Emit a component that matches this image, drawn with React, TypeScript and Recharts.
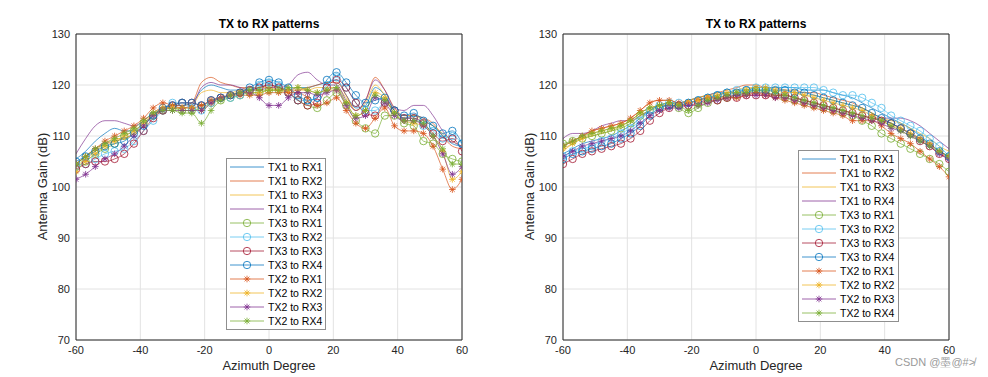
import React from "react";
import {
  LineChart,
  Line,
  XAxis,
  YAxis,
  CartesianGrid,
  ReferenceLine,
  Legend,
} from "recharts";

const AZIMUTH = [
  -60, -57, -54, -51, -48, -45, -42, -39, -36, -33, -30, -27, -24, -21, -18,
  -15, -12, -9, -6, -3, 0, 3, 6, 9, 12, 15, 18, 21, 24, 27, 30, 33, 36, 39, 42,
  45, 48, 51, 54, 57, 60,
];

const SERIES_NAMES = [
  "TX1 to RX1", "TX1 to RX2", "TX1 to RX3", "TX1 to RX4",
  "TX3 to RX1", "TX3 to RX2", "TX3 to RX3", "TX3 to RX4",
  "TX2 to RX1", "TX2 to RX2", "TX2 to RX3", "TX2 to RX4",
];
const SERIES_COLORS = [
  "#0072BD", "#D95319", "#EDB120", "#7E2F8E",
  "#77AC30", "#4DBEEE", "#A2142F", "#0072BD",
  "#D95319", "#EDB120", "#7E2F8E", "#77AC30",
];
const SERIES_MARKERS = [
  "none", "none", "none", "none",
  "circle", "circle", "circle", "circle",
  "star", "star", "star", "star",
];

const X_TICKS = [-60, -40, -20, 0, 20, 40, 60];
const Y_TICKS = [70, 80, 90, 100, 110, 120, 130];

// left plot
const L_TX1_RX1 = [105.5, 107, 109, 110.5, 111.5, 111, 111, 112.5, 114, 115.5, 116, 116, 116.5, 119, 120, 119.5, 119, 119, 119, 119.5, 120, 119.5, 119, 119.5, 119.5, 120, 120.5, 121, 118, 115.5, 116, 119.5, 118, 115, 113.5, 114, 113.5, 112, 110, 108.5, 108];
const L_TX1_RX2 = [104.5, 106, 107.5, 108.5, 109, 109.5, 110.5, 112, 114, 115.5, 116, 116, 116.5, 120.5, 121.5, 120.5, 120, 119.5, 119.5, 119.5, 120, 119.5, 119, 119, 119.5, 120, 120.5, 120.5, 118, 115, 117, 121.5, 119, 115.5, 114, 114, 113.5, 112.5, 110, 108, 107.5];
const L_TX1_RX3 = [104, 105.5, 107, 108.5, 109.5, 109.5, 110.5, 112, 114, 115, 115.5, 115.5, 116, 118.5, 119, 118.5, 118.5, 119, 119.5, 119.5, 119.5, 119, 118.5, 119, 119, 119.5, 119.5, 119.5, 117.5, 115, 116.5, 120, 118, 115, 114, 114, 113, 112, 110.5, 109, 108];
const L_TX1_RX4 = [106.5, 109.5, 112, 113, 113, 112.5, 112, 113, 114.5, 115.5, 115.5, 115.5, 116, 119.5, 120.5, 120, 120, 119.5, 119, 119, 119.5, 119.5, 120, 122, 122.5, 121, 120, 120, 117, 115, 117, 121, 119, 115.5, 115, 116, 116, 114, 111, 109, 108];
const L_TX3_RX1 = [104, 105, 106.5, 107.5, 108.5, 110, 111, 112.5, 114, 115, 115.5, 115, 115, 115.5, 116.5, 117, 117.5, 118, 118.5, 118.5, 119, 119, 118.5, 117, 116, 115.5, 117, 118.5, 116, 113, 111.5, 110.5, 114, 114, 112.5, 112, 109, 108.5, 106.5, 105.5, 105];
const L_TX3_RX2 = [104, 104.5, 105.5, 106.5, 107, 107.5, 109, 111, 113, 115, 116.5, 116.5, 115.5, 115, 116.5, 117.5, 117.5, 118, 119, 120, 120.5, 120, 118.5, 117, 117, 117.5, 120, 121.5, 119.5, 116.5, 115, 115, 116.5, 115, 113.5, 113.5, 112, 111, 109.5, 110, 108.5];
const L_TX3_RX3 = [103.5, 104.5, 105, 105, 105.5, 106.5, 108.5, 111, 113.5, 115, 116, 116.5, 116.5, 116, 117, 117.5, 118, 118.5, 119, 119.5, 120, 119.5, 118.5, 117, 116, 116.5, 119.5, 121, 119.5, 116.5, 114.5, 114, 116.5, 115, 113.5, 113.5, 112.5, 110.5, 109, 109.5, 107];
const L_TX3_RX4 = [105, 106, 107, 108, 108.5, 109, 110.5, 112, 114, 115.5, 116, 116.5, 116.5, 116, 117, 117.5, 118, 118.5, 119.5, 120.5, 121, 120.5, 119.5, 118, 117, 117.5, 121, 122.5, 120.5, 118, 116.5, 117, 117.5, 115, 114, 114.5, 113, 112, 110.5, 111, 108.5];
const L_TX2_RX1 = [104.5, 106, 107.5, 109, 110, 111, 112, 113.5, 115.5, 116.5, 116, 115.5, 115.5, 116, 117, 117.5, 118, 118, 118, 118, 118.5, 118.5, 118.5, 118.5, 117.5, 116, 116.5, 117.5, 115, 112.5, 111.5, 113.5, 115.5, 112, 111, 111, 110.5, 108, 103.5, 99.5, 101.5];
const L_TX2_RX2 = [103, 105, 106.5, 108, 109, 110, 111, 112.5, 114.5, 115.5, 115.5, 115.5, 115.5, 115, 116.5, 117.5, 118, 118.5, 118.5, 118.5, 119, 119, 119, 119.5, 119, 118.5, 119, 119, 116.5, 114, 115, 118.5, 117.5, 114.5, 113, 112.5, 112, 110, 107, 101.5, 103];
const L_TX2_RX3 = [101.5, 102.5, 104, 105.5, 106.5, 108, 110, 112, 114, 115, 115, 115, 115, 115, 116.5, 117.5, 118, 118.5, 118.5, 117.5, 116, 116, 117.5, 118.5, 118.5, 118, 118.5, 119, 116, 113.5, 114, 117.5, 116.5, 114, 113, 113, 112, 110, 106.5, 102.5, 104];
const L_TX2_RX4 = [104.5, 106, 107.5, 108.5, 109.5, 110.5, 111.5, 113, 114.5, 115, 115, 114.5, 114.5, 112.5, 115, 117, 118, 118.5, 119, 119, 119, 119, 119.5, 119.5, 119, 118.5, 119, 119.5, 116.5, 114, 115, 118, 117, 114.5, 113, 113, 112.5, 110, 107.5, 104.5, 104.5];

// right plot
const R_TX1_RX1 = [106.5, 107.5, 108.5, 109, 109.5, 110, 111, 112, 113.5, 115, 116, 116.5, 116.5, 117, 117.5, 118, 118.5, 118.5, 119, 119, 119.5, 119.5, 119.5, 119.5, 119.5, 119, 119, 119, 118.5, 118, 117.5, 116.5, 115.5, 114.5, 113.5, 112.5, 111.5, 110, 108.5, 107, 106];
const R_TX1_RX2 = [108, 109, 110, 111, 111.5, 112, 112.5, 113.5, 115, 116.5, 117, 117, 116.5, 117, 117.5, 118, 118.5, 119, 119.5, 120, 120, 119.5, 119.5, 119, 119, 118.5, 118.5, 118, 117.5, 117, 116.5, 115.5, 114.5, 113.5, 112.5, 111.5, 110.5, 109.5, 108, 106.5, 106];
const R_TX1_RX3 = [107, 108.5, 109.5, 110, 110.5, 111, 112, 113, 114.5, 115.5, 116, 116.5, 116.5, 117, 117.5, 118, 118, 118.5, 119, 119.5, 119.5, 119.5, 119, 119, 118.5, 118, 118, 117.5, 117, 116.5, 116, 115.5, 114.5, 113.5, 113, 112.5, 111.5, 110.5, 109.5, 108, 107];
const R_TX1_RX4 = [109.5, 110.5, 110.5, 111, 112, 112.5, 113, 113, 114, 115, 116, 116, 116, 116.5, 117, 117.5, 117.5, 118, 118, 118.5, 118.5, 118.5, 118, 118, 117.5, 117, 116.5, 116, 115.5, 115, 114.5, 114, 113.5, 113.5, 113.5, 113.5, 113, 112, 110.5, 109, 107.5];
const R_TX3_RX1 = [108.5, 109, 109.5, 110, 110.5, 111, 111.5, 112.5, 114, 115, 115.5, 116, 115.5, 114.5, 115.5, 116.5, 117, 117.5, 118, 118.5, 119, 118.5, 118, 117.5, 117, 116.5, 116, 115.5, 115, 114.5, 114, 113, 112, 110.5, 109.5, 108.5, 107.5, 106.5, 105.5, 104.5, 103];
const R_TX3_RX2 = [106, 107, 107.5, 108, 109, 109.5, 110.5, 111.5, 113, 115, 116, 116.5, 116.5, 116.5, 117, 117.5, 118, 118.5, 119, 119, 119.5, 119.5, 119.5, 119.5, 119.5, 119.5, 119.5, 119, 118.5, 118, 118, 117.5, 116.5, 115.5, 114, 113, 112, 111, 109.5, 108, 106];
const R_TX3_RX3 = [104.5, 105.5, 106.5, 107, 107.5, 108, 108.5, 109.5, 111, 113, 114.5, 115.5, 116, 116, 116.5, 117, 117, 117.5, 117.5, 118, 118, 118, 118, 118, 117.5, 117, 116.5, 116, 115.5, 115, 114.5, 114, 113.5, 113, 112.5, 111.5, 110.5, 109, 108, 106.5, 105.5];
const R_TX3_RX4 = [105.5, 106.5, 107, 107.5, 108, 108.5, 109.5, 110.5, 112, 114, 115.5, 116, 116, 116.5, 117, 117.5, 118, 118.5, 118.5, 119, 119, 119, 119, 119, 118.5, 118.5, 118, 117.5, 117, 116.5, 116, 115.5, 114.5, 113.5, 112.5, 111.5, 110.5, 109.5, 108.5, 107, 106];
const R_TX2_RX1 = [108, 109, 110, 111, 111.5, 112, 112.5, 113.5, 115, 116.5, 117, 117, 116.5, 116.5, 117, 117.5, 117.5, 117.5, 117.5, 118, 118.5, 118, 117.5, 117, 116.5, 116, 115.5, 115, 114.5, 114, 113, 113, 113, 112, 110.5, 109.5, 108.5, 107, 105.5, 104, 102];
const R_TX2_RX2 = [107.5, 108.5, 109.5, 110.5, 111, 111.5, 112, 113, 114.5, 115.5, 116, 116.5, 116, 116.5, 117, 117.5, 118, 118.5, 118.5, 119, 119.5, 119.5, 119, 118.5, 118.5, 118, 117.5, 117, 116.5, 116, 115.5, 115, 114, 113, 112, 111.5, 110.5, 109.5, 108.5, 107, 106];
const R_TX2_RX3 = [106, 107, 108, 108.5, 109, 109.5, 110, 111, 112.5, 114, 115, 115.5, 115.5, 116, 116, 116.5, 117, 117.5, 118, 118, 118, 118, 117.5, 117.5, 117, 116.5, 116, 115.5, 115, 114.5, 114, 113.5, 113, 112.5, 111.5, 111, 110, 109, 108, 106.5, 105.5];
const R_TX2_RX4 = [108, 109, 110, 110.5, 111, 111.5, 112, 113, 114.5, 115.5, 116, 116.5, 116, 115, 116, 117, 117.5, 118, 118.5, 118.5, 119, 119, 118.5, 118, 117.5, 117, 116.5, 116, 115.5, 115, 114.5, 114, 113.5, 113, 112, 111, 110, 109, 108, 107, 106];

const LEFT_SERIES = [
  L_TX1_RX1, L_TX1_RX2, L_TX1_RX3, L_TX1_RX4,
  L_TX3_RX1, L_TX3_RX2, L_TX3_RX3, L_TX3_RX4,
  L_TX2_RX1, L_TX2_RX2, L_TX2_RX3, L_TX2_RX4,
];
const RIGHT_SERIES = [
  R_TX1_RX1, R_TX1_RX2, R_TX1_RX3, R_TX1_RX4,
  R_TX3_RX1, R_TX3_RX2, R_TX3_RX3, R_TX3_RX4,
  R_TX2_RX1, R_TX2_RX2, R_TX2_RX3, R_TX2_RX4,
];

const FONT = "'Liberation Sans', Arial, Helvetica, sans-serif";
const AXIS_COLOR = "#262626";

function markerShape(kind: string, color: string, cx: number, cy: number, key?: any) {
  if (kind === "circle") {
    return <circle key={key} cx={cx} cy={cy} r={3.7} fill="none" stroke={color} strokeWidth={0.8} />;
  }
  if (kind === "star") {
    const s = 3.3;
    const d = 2.4;
    return (
      <path
        key={key}
        d={`M${cx - s},${cy}H${cx + s}M${cx},${cy - s}V${cy + s}M${cx - d},${cy - d}L${cx + d},${cy + d}M${cx - d},${cy + d}L${cx + d},${cy - d}`}
        stroke={color}
        strokeWidth={0.8}
        fill="none"
      />
    );
  }
  return null;
}

function makeDot(kind: string, color: string) {
  if (kind === "none") return false;
  return (p: any) => {
    const { cx, cy, index } = p;
    if (cx == null || cy == null) return <g key={`d-${index}`} />;
    return markerShape(kind, color, cx, cy, `d-${index}`);
  };
}

function LegendBox() {
  return (
    <div
      style={{
        border: "1px solid #8f8f8f",
        background: "#fff",
        padding: "1px 0 1px 0",
        fontFamily: FONT,
        fontSize: 10.5,
        color: "#000",
      }}
    >
      {SERIES_NAMES.map((name, i) => (
        <div key={name} style={{ display: "flex", alignItems: "center", height: 14 }}>
          <svg width={40} height={14} style={{ flex: "none" }}>
            <line x1={3} y1={7} x2={37} y2={7} stroke={SERIES_COLORS[i]} strokeWidth={1} strokeOpacity={0.75} />
            {markerShape(SERIES_MARKERS[i], SERIES_COLORS[i], 20, 7)}
          </svg>
          <span style={{ marginLeft: 1, whiteSpace: "nowrap" }}>{name}</span>
        </div>
      ))}
    </div>
  );
}

function PatternChart({
  series,
  width,
  legendLeft,
  legendTop,
  legendWidth,
}: {
  series: number[][];
  width: number;
  legendLeft: number;
  legendTop: number;
  legendWidth: number;
}) {
  const rows = AZIMUTH.map((az, i) => {
    const r: Record<string, number> = { az };
    series.forEach((s, k) => {
      r[`s${k}`] = s[i];
    });
    return r;
  });
  const tick = { fontSize: 11, fill: AXIS_COLOR, fontFamily: FONT };
  return (
    <LineChart
      width={width}
      height={377}
      data={rows}
      margin={{ top: 34, right: width - 40 - 36 - 386, bottom: 7, left: 40 }}
    >
      <CartesianGrid stroke="#e2e2e2" strokeWidth={1} />
      <XAxis
        dataKey="az"
        type="number"
        domain={[-60, 60]}
        ticks={X_TICKS}
        tick={tick}
        tickLine={false}
        tickSize={0}
        tickMargin={6}
        height={30}
        axisLine={{ stroke: AXIS_COLOR }}
        allowDataOverflow
      />
      <YAxis
        type="number"
        domain={[70, 130]}
        ticks={Y_TICKS}
        tick={tick}
        tickLine={false}
        tickSize={0}
        tickMargin={6}
        width={36}
        axisLine={{ stroke: AXIS_COLOR }}
        allowDataOverflow
      />
      <ReferenceLine y={130} stroke={AXIS_COLOR} strokeWidth={1} />
      <ReferenceLine x={60} stroke={AXIS_COLOR} strokeWidth={1} />
      {series.map((_, k) => (
        <Line
          key={k}
          dataKey={`s${k}`}
          name={SERIES_NAMES[k]}
          type="monotone"
          stroke={SERIES_COLORS[k]}
          strokeWidth={0.8}
          strokeOpacity={0.85}
          dot={makeDot(SERIES_MARKERS[k], SERIES_COLORS[k])}
          activeDot={false}
          isAnimationActive={false}
        />
      ))}
      <Legend
        layout="vertical"
        align="center"
        verticalAlign="middle"
        content={() => <LegendBox />}
        wrapperStyle={{ left: legendLeft, top: legendTop, width: legendWidth, height: "auto" }}
      />
    </LineChart>
  );
}

function Labels({ plotLeft }: { plotLeft: number }) {
  const center = plotLeft + 193;
  return (
    <>
      <div
        style={{
          position: "absolute",
          left: center - 100,
          width: 200,
          top: 17,
          textAlign: "center",
          fontFamily: FONT,
          fontWeight: "bold",
          fontSize: 12,
          lineHeight: "14px",
          color: "#000",
        }}
      >
        TX to RX patterns
      </div>
      <div
        style={{
          position: "absolute",
          left: center - 100,
          width: 200,
          top: 358,
          textAlign: "center",
          fontFamily: FONT,
          fontSize: 13,
          lineHeight: "15px",
          color: AXIS_COLOR,
        }}
      >
        Azimuth Degree
      </div>
      <div
        style={{
          position: "absolute",
          left: plotLeft - 34 - 100,
          top: 187 - 8,
          width: 200,
          textAlign: "center",
          transform: "rotate(-90deg)",
          fontFamily: FONT,
          fontSize: 13,
          lineHeight: "15px",
          color: AXIS_COLOR,
        }}
      >
        Antenna Gain (dB)
      </div>
    </>
  );
}

export default function App() {
  return (
    <div
      style={{
        position: "absolute",
        left: 0,
        top: 0,
        width: 988,
        height: 377,
        background: "#fff",
        overflow: "hidden",
      }}
    >
      <div style={{ position: "absolute", left: 0, top: 0 }}>
        <PatternChart series={LEFT_SERIES} width={480} legendLeft={226} legendTop={158} legendWidth={100} />
      </div>
      <div style={{ position: "absolute", left: 487, top: 0 }}>
        <PatternChart series={RIGHT_SERIES} width={501} legendLeft={311} legendTop={150} legendWidth={101} />
      </div>
      <Labels plotLeft={76} />
      <Labels plotLeft={563} />
      <div
        style={{
          position: "absolute",
          left: 895,
          top: 355,
          fontFamily: FONT,
          fontSize: 11,
          color: "#9a9a9a",
          whiteSpace: "nowrap",
        }}
      >
        CSDN @墨@#≯
      </div>
    </div>
  );
}
